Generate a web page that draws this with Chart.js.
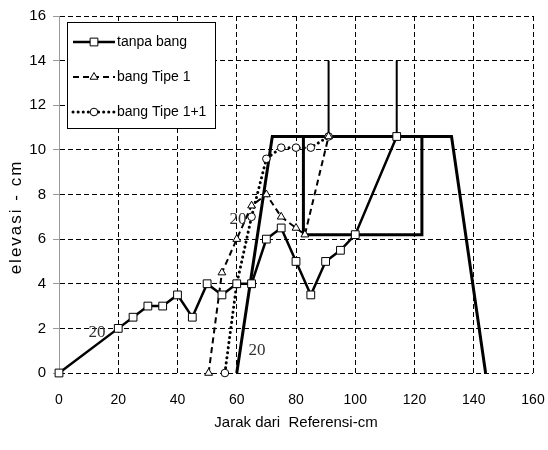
<!DOCTYPE html>
<html>
<head>
<meta charset="utf-8">
<script src="https://cdn.jsdelivr.net/npm/chart.js@4.4.1/dist/chart.umd.min.js"></script>
<style>
  html, body { margin: 0; padding: 0; background: #fff; }
  #wrap { width: 548px; height: 450px; }
</style>
</head>
<body>
<div id="wrap"><canvas id="myChart"></canvas></div>
<script>
// datos
const tanpaX = [0, 20, 25, 30, 35, 40, 45, 50, 55, 60, 65, 70, 75, 80, 85, 90, 95, 100, 114];
const tanpaY = [0, 2, 2.5, 3, 3, 3.5, 2.5, 4, 3.5, 4, 4, 6, 6.5, 5, 3.5, 5, 5.5, 6.2, 10.6];
const tipe1X = [50.5, 55, 60, 65, 70, 75, 80, 83, 91];
const tipe1Y = [0, 4.5, 6, 7.5, 8, 7, 6.5, 6.2, 10.6];
const tipe11X = [56, 60, 65, 70, 75, 80, 85, 91];
const tipe11Y = [0, 4, 7, 9.6, 10.1, 10.1, 10.1, 10.6];
// contorno de la estructura
const trapX = [60, 72, 132.5, 144];
const trapY = [0, 10.6, 10.6, 0];
const rectX = [82.5, 82.5, 122.5, 122.5];
const rectY = [10.6, 6.2, 6.2, 10.6];
const rodX = [91, 91, null, 114, 114];
const rodY = [10.6, 14, null, 10.6, 14];
// anotaciones "20"
const noteX = [12.8, 60.4, 66.8];
const noteY = [1.8, 6.9, 1.0];
const noteText = ['20', '20', '20'];
const legendNames = ['tanpa bang', 'bang Tipe 1', 'bang Tipe 1+1'];
const yTitle = 'elevasi - cm';

const pts = (xs, ys) => xs.map((x, i) => (x === null ? { x: NaN, y: null } : { x: x, y: ys[i] }));

const uiFont = '"Liberation Sans", Arial, sans-serif';

const notesPlugin = {
  id: 'notes',
  afterDatasetsDraw(chart) {
    const ctx = chart.ctx;
    const xs = chart.scales.x, ys = chart.scales.y;
    ctx.save();
    ctx.font = '17px "Liberation Serif", "Times New Roman", serif';
    ctx.fillStyle = '#333';
    ctx.textAlign = 'center';
    ctx.textBaseline = 'middle';
    noteText.forEach((t, i) => {
      ctx.fillText(t, xs.getPixelForValue(noteX[i]), ys.getPixelForValue(noteY[i]));
    });
    ctx.restore();

    // titulo del eje y con espaciado de letras
    ctx.save();
    ctx.translate(16, chart.chartArea.top + 201);
    ctx.rotate(-Math.PI / 2);
    ctx.font = '17px ' + uiFont;
    ctx.letterSpacing = '2px';
    ctx.fillStyle = '#000';
    ctx.textAlign = 'center';
    ctx.textBaseline = 'middle';
    ctx.fillText(yTitle, 0, 0);
    ctx.restore();
  }
};

const legendPlugin = {
  id: 'boxLegend',
  afterDraw(chart) {
    const ctx = chart.ctx;
    const a = chart.chartArea;
    const bx = a.left + 8, by = a.top + 6, bw = 148, bh = 106;
    ctx.save();
    ctx.fillStyle = '#fff';
    ctx.fillRect(bx, by, bw, bh);
    ctx.strokeStyle = '#000';
    ctx.lineWidth = 1;
    ctx.setLineDash([]);
    ctx.strokeRect(bx + 0.5, by + 0.5, bw, bh);
    ctx.font = '14px ' + uiFont;
    ctx.fillStyle = '#000';
    ctx.textBaseline = 'middle';
    for (let i = 0; i < 3; i++) {
      const ds = chart.data.datasets[i];
      const ry = by + 20 + i * 35;
      const x0 = bx + 6, x1 = bx + 48;
      ctx.beginPath();
      ctx.setLineDash(ds.borderDash || []);
      ctx.lineCap = ds.borderCapStyle || 'butt';
      ctx.lineWidth = ds.borderWidth;
      ctx.strokeStyle = '#000';
      ctx.moveTo(x0, ry);
      ctx.lineTo(x1, ry);
      ctx.stroke();
      ctx.setLineDash([]);
      ctx.lineCap = 'butt';
      ctx.fillStyle = '#fff';
      ctx.strokeStyle = '#000';
      ctx.lineWidth = 1;
      Chart.helpers.drawPoint(ctx, { pointStyle: ds.pointStyle, radius: ds.pointRadius, borderWidth: 1, rotation: 0 }, (x0 + x1) / 2, ry);
      ctx.fillStyle = '#000';
      ctx.fillText(legendNames[i], x1 + 2, ry);
    }
    ctx.restore();
  }
};

const ctx = document.getElementById('myChart').getContext('2d');

let myChart = new Chart(ctx, {
  type: 'line',
  data: {
    datasets: [{
      label: legendNames[0],
      data: pts(tanpaX, tanpaY),
      borderColor: '#000',
      borderWidth: 2.5,
      pointStyle: 'rect',
      pointRadius: 5.5,
      pointBorderWidth: 1,
      pointBackgroundColor: '#fff',
      pointBorderColor: '#000',
      clip: 10,
      order: 1
    }, {
      label: legendNames[1],
      data: pts(tipe1X, tipe1Y),
      borderColor: '#000',
      borderWidth: 2,
      borderDash: [6, 4],
      pointStyle: 'triangle',
      pointRadius: 4.5,
      pointBorderWidth: 1,
      pointBackgroundColor: '#fff',
      pointBorderColor: '#000',
      clip: 10,
      order: 2
    }, {
      label: legendNames[2],
      data: pts(tipe11X, tipe11Y),
      borderColor: '#000',
      borderWidth: 3,
      borderDash: [0.1, 5],
      borderCapStyle: 'round',
      pointStyle: 'circle',
      pointRadius: 3.8,
      pointBorderWidth: 1,
      pointBackgroundColor: '#fff',
      pointBorderColor: '#000',
      clip: 10,
      order: 3
    }, {
      label: 'trapesium',
      data: pts(trapX, trapY),
      borderColor: '#000',
      borderWidth: 3,
      pointRadius: 0,
      order: 5
    }, {
      label: 'kotak',
      data: pts(rectX, rectY),
      borderColor: '#000',
      borderWidth: 3,
      pointRadius: 0,
      order: 5
    }, {
      label: 'tiang',
      data: pts(rodX, rodY),
      borderColor: '#000',
      borderWidth: 2,
      pointRadius: 0,
      spanGaps: false,
      order: 5
    }]
  },
  options: {
    responsive: true,
    maintainAspectRatio: false,
    animation: false,
    layout: { padding: { left: 0, right: 15, top: 16, bottom: 0 } },
    plugins: {
      legend: { display: false },
      tooltip: { enabled: false }
    },
    elements: { line: { tension: 0, fill: false } },
    scales: {
      x: {
        type: 'linear',
        min: 0,
        max: 160,
        ticks: { stepSize: 20, color: '#000', font: { size: 14, family: uiFont }, padding: 19 },
        grid: { color: '#000', lineWidth: 1, drawTicks: false },
        border: { display: false, dash: [5, 3] },
        title: { display: true, text: 'Jarak dari  Referensi-cm', color: '#000', font: { size: 15, family: uiFont }, padding: { top: 4, bottom: 18 } },
        afterFit: s => { s.height = 77; s.paddingRight = 0; s.paddingLeft = 0; }
      },
      y: {
        min: 0,
        max: 16,
        ticks: { stepSize: 2, color: '#000', font: { size: 15, family: uiFont }, padding: 7 },
        grid: { color: '#000', lineWidth: 1, tickColor: '#999', tickLength: 6 },
        border: { display: true, color: '#999', dash: [5, 3] },
        afterFit: s => { s.width = 59; }
      }
    }
  },
  plugins: [notesPlugin, legendPlugin]
});
</script>
</body>
</html>
